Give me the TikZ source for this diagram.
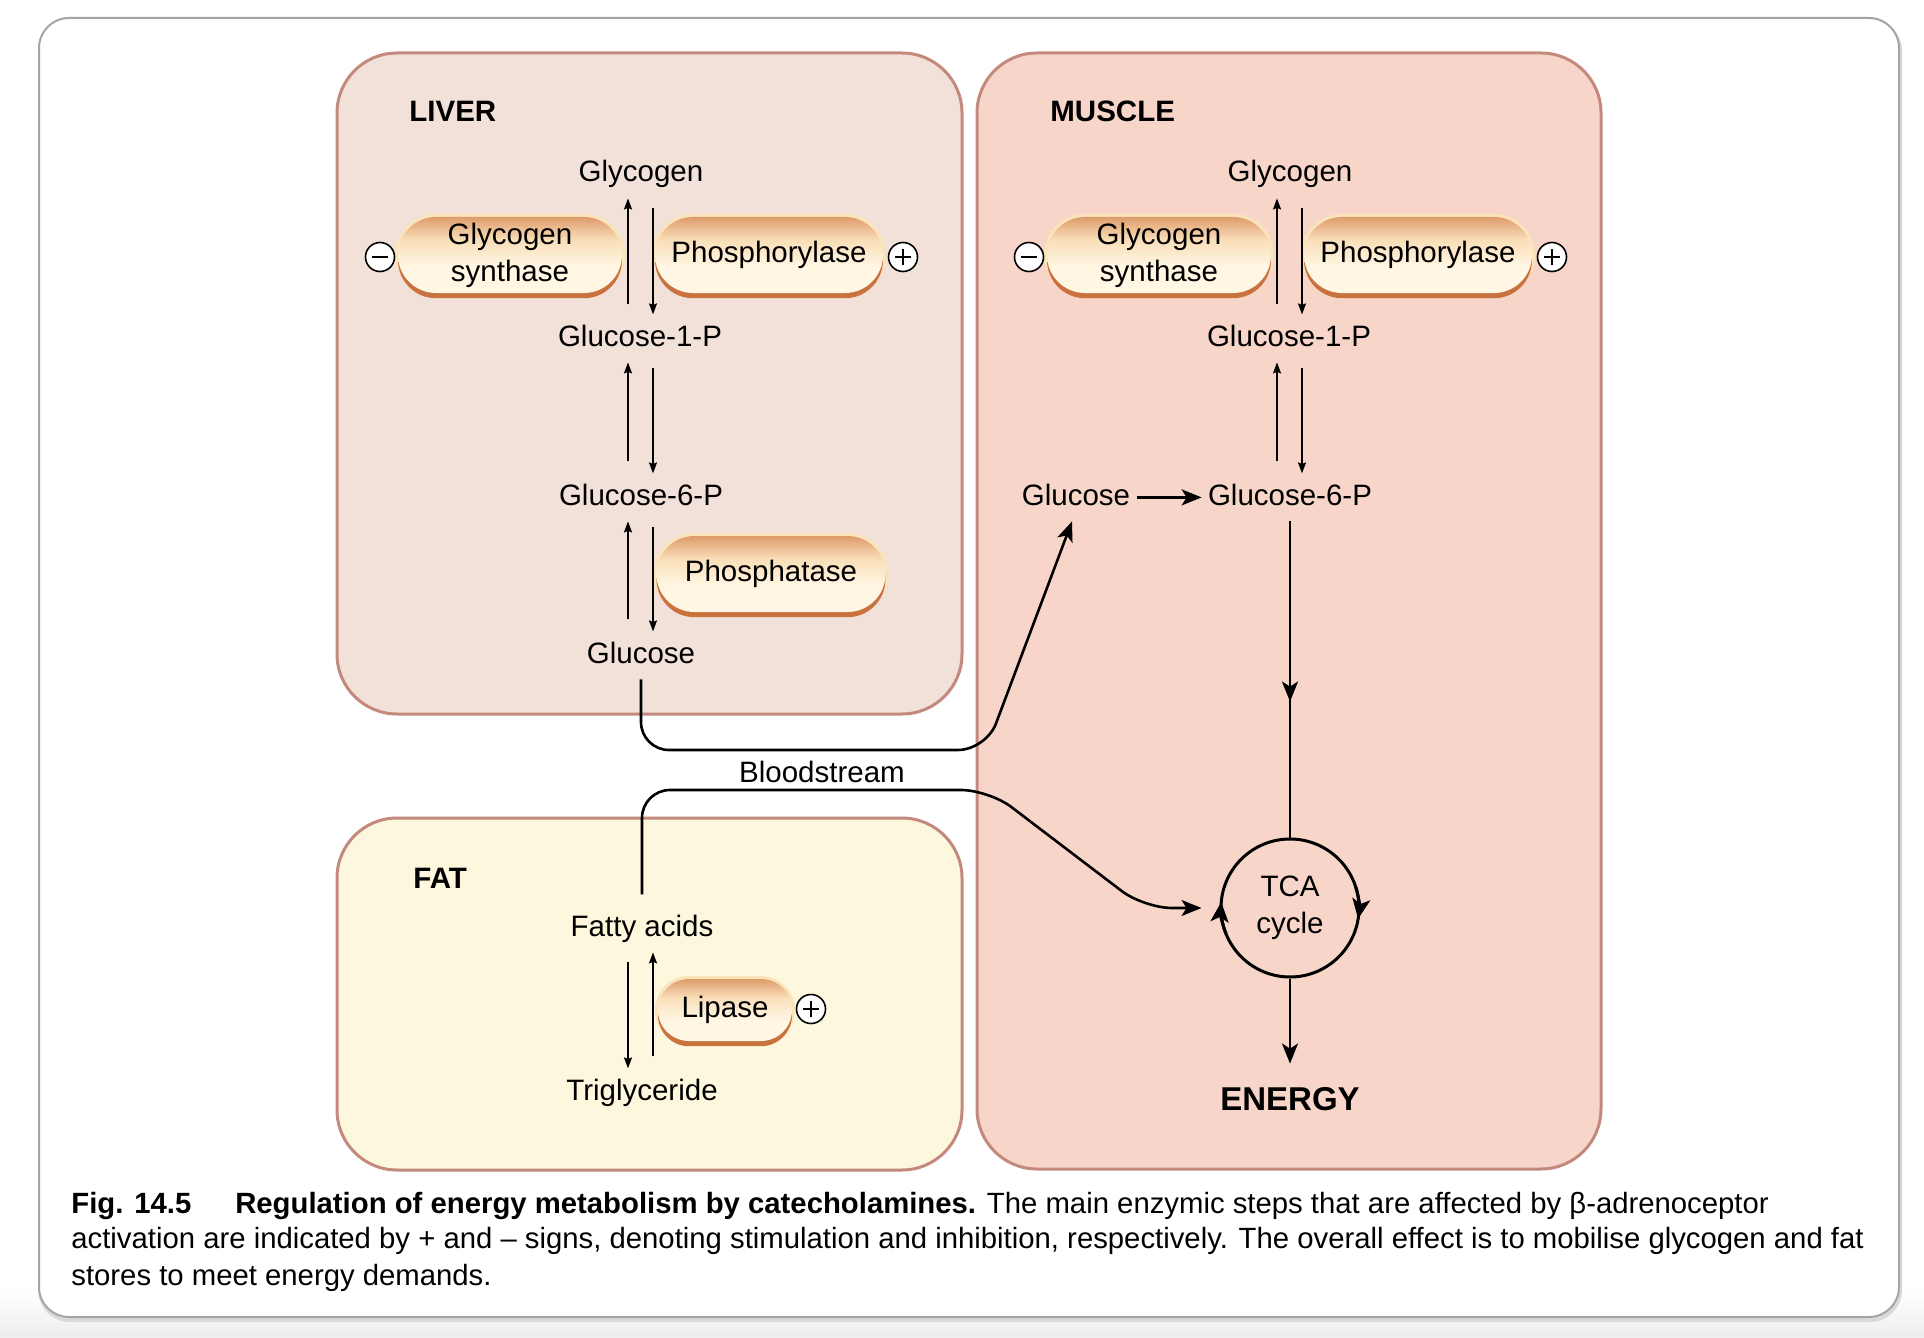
\documentclass[tikz,border=0pt]{standalone}
\usepackage{fontspec}
\setmainfont{Liberation Sans}
\usetikzlibrary{arrows.meta,shapes.misc,decorations.markings,calc}

\definecolor{liverfill}{RGB}{242,225,216}
\definecolor{musclefill}{RGB}{247,214,201}
\definecolor{fatfill}{RGB}{253,247,221}
\definecolor{boxborder}{RGB}{195,137,125}
\definecolor{framegray}{RGB}{165,165,165}
\definecolor{pillrim}{RGB}{202,114,62}
\definecolor{pilltop}{RGB}{222,156,108}
\definecolor{pillcream}{RGB}{255,247,228}
\definecolor{pillmid}{RGB}{249,222,184}
\definecolor{pillhalo}{RGB}{250,228,186}
\pgfdeclareverticalshading{pillshade}{100bp}{color(0bp)=(pillcream); color(25bp)=(pillcream); color(42bp)=(pillcream); color(60bp)=(pillmid); color(75bp)=(pilltop); color(100bp)=(pilltop)}

\tikzset{
  organ/.style={draw=boxborder, line width=1.5pt, rounded corners=30pt},
  lbl/.style={font=\fontsize{14.75}{18.5}\selectfont, inner xsep=3pt, inner ysep=5pt, text height=10.6pt, text depth=3pt},
  organtitle/.style={font=\bfseries\fontsize{14.75}{18}\selectfont, inner sep=0pt, anchor=base west},
  pill/.style={rounded rectangle, shading=pillshade,
    preaction={draw=pillhalo, line width=3pt},
    preaction={fill=pillrim, transform canvas={yshift=-2.6pt}},
    minimum height=38pt, inner xsep=0pt, inner ysep=0pt, align=center,
    font=\fontsize{14.75}{18.5}\selectfont},
  sign/.style={circle, draw=black, fill=white, line width=0.8pt, minimum size=14.5pt, inner sep=0pt},
  signplus/.style={sign, path picture={\draw[line width=1.1pt] ($(path picture bounding box.center)+(-4pt,0pt)$) -- ++(8pt,0pt) ($(path picture bounding box.center)+(0pt,-4pt)$) -- ++(0pt,8pt);}},
  signminus/.style={sign, path picture={\draw[line width=1.1pt] ($(path picture bounding box.center)+(-4pt,0pt)$) -- ++(8pt,0pt);}},
  rx/.style={-{Stealth[length=5.5pt,width=4pt,inset=0.8pt]}, line width=0.8pt},
  bigtip/.style={-{Stealth[length=10pt,width=8pt,inset=2.5pt]}},
  cyctip/.style={-{Stealth[length=10pt,width=9pt,inset=2.5pt]}},
  flow/.style={line width=1.3pt, rounded corners=14pt, bigtip},
  captxt/.style={anchor=base west, inner sep=0pt, font=\fontsize{14.65}{18.75}\selectfont},
}

\begin{document}
\begin{tikzpicture}[x=0.5pt,y=-0.5pt]
\useasboundingbox (0,0) rectangle (1924,1338);
\fill[white] (0,0) rectangle (1924,1338);
\shade[top color=white,bottom color=black!7] (0,1290) rectangle (1924,1338);
\draw[black!15, line width=2pt, rounded corners=15pt] (40,21) rectangle (1900,1320);
\draw[framegray, fill=white, line width=1pt, rounded corners=15pt] (39,18) rectangle (1899,1317);

% organ boxes
\draw[organ, fill=liverfill] (337,53) rectangle (962,714);
\draw[organ, fill=musclefill] (977,53) rectangle (1601,1169);
\draw[organ, fill=fatfill] (337,818) rectangle (962,1170);

\node[organtitle] (liver) at (409,122) {LIVER};
\node[organtitle] (muscle) at (1050,122) {MUSCLE};
\node[organtitle] (fat) at (413,888) {FAT};

\coordinate (colA) at (628,0);
\coordinate (colB) at (653,0);
\coordinate (colC) at (1277,0);
\coordinate (colD) at (1302,0);

% ---------- LIVER ----------
\node[lbl, anchor=base] (glyL) at (641,182) {Glycogen};
\node[lbl, anchor=base] (g1pL) at (640,346) {Glucose-1-P};
\node[lbl, anchor=base] (g6pL) at (641,505) {Glucose-6-P};
\node[lbl, anchor=base] (glcL) at (641,663) {Glucose};

\node[pill, minimum width=112pt] (gsL) at (510,255) {Glycogen\\synthase};
\node[pill, minimum width=114pt] (phL) at (769,255) {Phosphorylase};
\node[signminus] (mL) at (380,257) {};
\node[signplus] (pL) at (903,257) {};
\node[pill, minimum width=114.5pt] (phaL) at (771,574) {Phosphatase};

\draw[rx, shorten <=5pt] (g1pL.north -| colA) -- (glyL.south -| colA);
\draw[rx, shorten <=5pt] (glyL.south -| colB) -- (g1pL.north -| colB);
\draw[rx, shorten <=6pt] (g6pL.north -| colA) -- (g1pL.south -| colA);
\draw[rx, shorten <=3pt] (g1pL.south -| colB) -- (g6pL.north -| colB);
\draw[rx, shorten <=6pt] (glcL.north -| colA) -- (g6pL.south -| colA);
\draw[rx, shorten <=3pt] (g6pL.south -| colB) -- (glcL.north -| colB);

% ---------- MUSCLE ----------
\node[lbl, anchor=base] (glyM) at (1290,182) {Glycogen};
\node[lbl, anchor=base] (g1pM) at (1289,346) {Glucose-1-P};
\node[lbl, anchor=base] (g6pM) at (1290,505) {Glucose-6-P};
\node[lbl, anchor=base] (glcM) at (1076,505) {Glucose};

\node[pill, minimum width=112pt] (gsM) at (1159,255) {Glycogen\\synthase};
\node[pill, minimum width=114pt] (phM) at (1418,255) {Phosphorylase};
\node[signminus] (mM) at (1029,257) {};
\node[signplus] (pM) at (1552,257) {};

\draw[rx, shorten <=5pt] (g1pM.north -| colC) -- (glyM.south -| colC);
\draw[rx, shorten <=5pt] (glyM.south -| colD) -- (g1pM.north -| colD);
\draw[rx, shorten <=6pt] (g6pM.north -| colC) -- (g1pM.south -| colC);
\draw[rx, shorten <=3pt] (g1pM.south -| colD) -- (g6pM.north -| colD);

\draw[line width=1.3pt, bigtip] (glcM.east) -- (g6pM.west);

\node[circle, draw, line width=1.5pt, minimum size=69pt, inner sep=0pt, align=center,
      font=\fontsize{14.75}{18.5}\selectfont] (tca) at (1290,908) {TCA\\cycle};
\draw[line width=1.5pt, cyctip]
  ([shift={(202:34.5pt)}]tca.center) arc[start angle=202, end angle=175, radius=34.5pt];
\draw[line width=1.5pt, cyctip]
  ([shift={(18:34.5pt)}]tca.center) arc[start angle=18, end angle=-9, radius=34.5pt];

\draw[line width=1.3pt, postaction={decorate},
      decoration={markings, mark=at position 0.57 with {\arrow{Stealth[length=10pt,width=8pt,inset=2.5pt]}}}]
  (g6pM.south) -- (tca.north);

\node[font=\bfseries\fontsize{16.5}{20}\selectfont, inner sep=0pt, anchor=base] (energy) at (1290,1110) {ENERGY};
\draw[line width=1.3pt, bigtip] (tca.south) -- ([yshift=11.5pt]energy.north);

% ---------- FAT ----------
\node[lbl, anchor=base] (faF) at (642,936) {Fatty acids};
\node[lbl, anchor=base] (tgF) at (642,1100) {Triglyceride};
\node[pill, minimum width=67pt, minimum height=31pt] (lip) at (725,1010) {Lipase};
\node[signplus] (pF) at (811,1009) {};

\draw[rx, shorten <=5pt] (faF.south -| colA) -- (tgF.north -| colA);
\draw[rx, shorten <=6pt] (tgF.north -| colB) -- (faF.south -| colB);

% ---------- BLOODSTREAM ----------
\node[lbl, anchor=base] (blood) at (822,782) {Bloodstream};
\coordinate (b1) at (986,750);
\coordinate (b2) at (989,790);
\coordinate (b3) at (1144,908);
\draw[flow] (glcL.south) |- (b1) -- ([xshift=-2pt]glcM.south);
\draw[flow, shorten <=5pt, shorten >=9pt] (faF.north) |- (b2) -- (b3) -- (tca.west);

% ---------- CAPTION ----------
\node[captxt] (cap1) at (71,1213)
  {\textbf{Fig. 14.5}\hspace{1.5em}\textbf{Regulation of energy metabolism by catecholamines.} The main enzymic steps that are affected by β-adrenoceptor};
\node[captxt] (cap2) at (71,1248)
  {activation are indicated by + and – signs, denoting stimulation and inhibition, respectively. The overall effect is to mobilise glycogen and fat};
\node[captxt] (cap3) at (71,1285)
  {stores to meet energy demands.};
\end{tikzpicture}
\end{document}
